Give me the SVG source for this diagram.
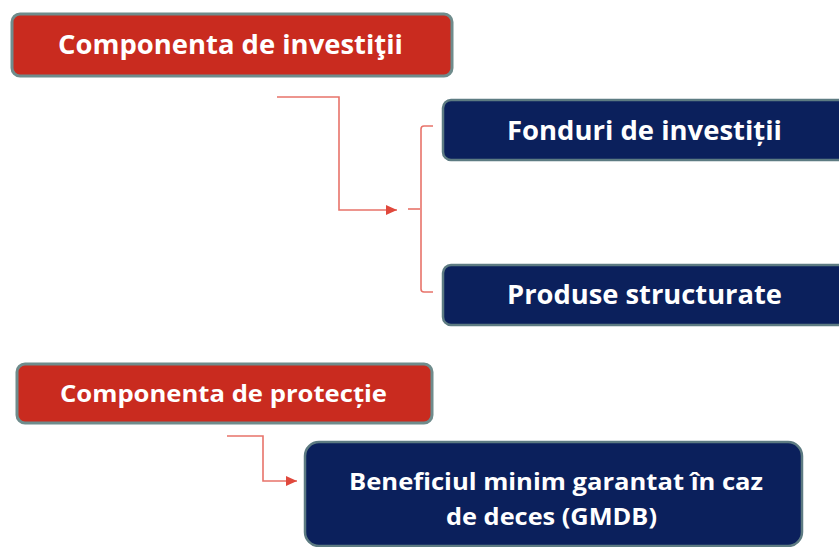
<svg xmlns="http://www.w3.org/2000/svg" width="839" height="547" viewBox="0 0 839 547">
<style>
.red{fill:#c92b1f;stroke:#6f8c8c;stroke-width:3}
.navy{fill:#0b205c;stroke:#5d7b82;stroke-width:2.5}
.t{fill:#ffffff;font-family:"Open Sans","Liberation Sans",sans-serif;font-weight:bold}
.c{fill:none;stroke:#e8736a;stroke-width:1.6}
</style>
<defs>
<marker id="ah" markerUnits="userSpaceOnUse" markerWidth="12" markerHeight="10" refX="11" refY="5" orient="auto">
<path d="M0,0 L11,5 L0,10 Z" fill="#e0483c"/>
</marker>
</defs>
<rect width="839" height="547" fill="#ffffff"/>
<g id="connectors">
<path class="c" d="M277,97 H339 V210 H397" marker-end="url(#ah)"/>
<path class="c" d="M408,209 H420"/>
<path class="c" d="M433,126 H424 Q421,126 421,129 V289 Q421,292 424,292 H433"/>
<path class="c" d="M227,436 H263 V481 H297" marker-end="url(#ah)"/>
</g>
<g id="node-investitii">
<rect class="red" x="12" y="14" width="440" height="62" rx="8"/>
<text class="t" x="58" y="54" font-size="27" textLength="345" lengthAdjust="spacingAndGlyphs">Componenta de investiţii</text>
</g>
<g id="node-fonduri">
<rect class="navy" x="443" y="100" width="410" height="60" rx="8"/>
<text class="t" x="507" y="140" font-size="27" textLength="275" lengthAdjust="spacingAndGlyphs">Fonduri de investiții</text>
</g>
<g id="node-produse">
<rect class="navy" x="443" y="265" width="410" height="60" rx="8"/>
<text class="t" x="507" y="304" font-size="27" textLength="275" lengthAdjust="spacingAndGlyphs">Produse structurate</text>
</g>
<g id="node-protectie">
<rect class="red" x="17" y="364" width="415" height="59" rx="8"/>
<text class="t" x="60" y="402" font-size="23" textLength="327" lengthAdjust="spacingAndGlyphs">Componenta de protecție</text>
</g>
<g id="node-gmdb">
<rect class="navy" x="305" y="442" width="497" height="104" rx="14"/>
<text class="t" x="349" y="490" font-size="24" textLength="414" lengthAdjust="spacingAndGlyphs">Beneficiul minim garantat în caz</text>
<text class="t" x="446" y="525" font-size="24" textLength="211" lengthAdjust="spacingAndGlyphs">de deces (GMDB)</text>
</g>
</svg>
